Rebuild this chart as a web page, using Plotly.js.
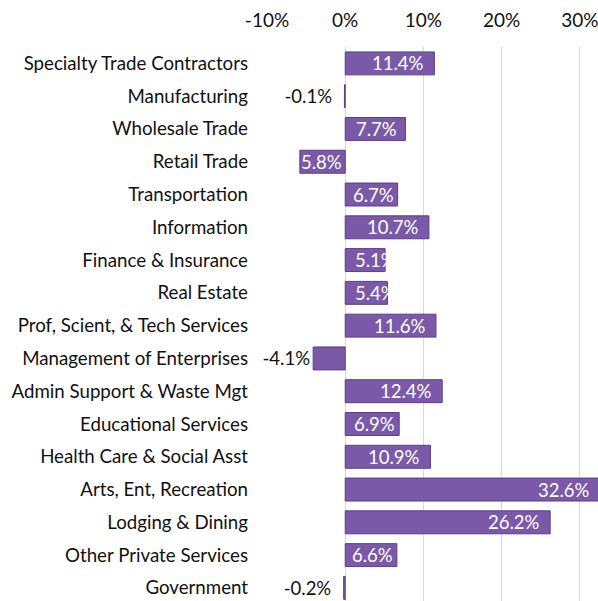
<!DOCTYPE html>
<html>
<head>
<meta charset="utf-8">
<script src="https://cdn.plot.ly/plotly-3.0.1.min.js"></script>
<style>html,body{margin:0;padding:0;background:#fff;overflow:hidden;}#chart{width:601px;height:601px;}</style>
</head>
<body>
<div id="chart"></div>
<script>
const categories = [
  "Specialty Trade Contractors", "Manufacturing", "Wholesale Trade", "Retail Trade",
  "Transportation", "Information", "Finance & Insurance", "Real Estate",
  "Prof, Scient, & Tech Services", "Management of Enterprises", "Admin Support & Waste Mgt",
  "Educational Services", "Health Care & Social Asst", "Arts, Ent, Recreation",
  "Lodging & Dining", "Other Private Services", "Government"
];
const values = [11.4, -0.1, 7.7, -5.8, 6.7, 10.7, 5.1, 5.4, 11.6, -4.1, 12.4, 6.9, 10.9, 32.6, 26.2, 6.6, -0.2];
const labels = ["11.4%", "-0.1%", "7.7%", "5.8%", "6.7%", "10.7%", "5.1%", "5.4%", "11.6%", "-4.1%", "12.4%", "6.9%", "10.9%", "32.6%", "26.2%", "6.6%", "-0.2%"];
const tickVals = [-10, 0, 10, 20, 30];
const tickText = ["-10%", "0%", "10%", "20%", "30%"];

const FONT = "Lato, 'Open Sans', sans-serif";
const LABEL_SIZE = 18.5;
const NB = '\u00a0';
const inside = values.map((v, i) => v > 0 || labels[i].charAt(0) !== '-');
const outsideText = labels.map((t, i) => inside[i] ? '' : (Math.abs(values[i]) < 1 ? t + NB + NB : t));

const trace = {
  type: 'bar',
  orientation: 'h',
  y: categories,
  x: values,
  text: outsideText,
  textposition: 'outside',
  constraintext: 'none',
  cliponaxis: false,
  outsidetextfont: {family: FONT, size: LABEL_SIZE, color: '#111111'},
  textangle: 0,
  width: 0.7,
  marker: {color: '#7a5aa8', line: {color: '#5b3f86', width: 1}},
  hoverinfo: 'none'
};

const layout = {
  width: 601, height: 601,
  margin: {l: 267, r: 0, t: 47, b: 0, pad: 0},
  paper_bgcolor: '#ffffff', plot_bgcolor: '#ffffff',
  showlegend: false,
  font: {family: FONT, size: LABEL_SIZE, color: '#111111'},
  xaxis: {
    side: 'top',
    range: [-10, 32.7],
    tickvals: tickVals, ticktext: tickText,
    showgrid: true, gridcolor: '#d9d9d9', gridwidth: 1,
    zeroline: true, zerolinecolor: '#d9d9d9', zerolinewidth: 1,
    showline: false, ticks: '',
    ticklabelstandoff: 15,
    tickfont: {family: FONT, size: 19, color: '#111111'},
    fixedrange: true
  },
  yaxis: {
    type: 'category',
    range: [16.4, -0.5],
    showgrid: false, zeroline: false, showline: false, ticks: '',
    ticklabelstandoff: 18,
    tickfont: {family: FONT, size: 18.7, color: '#111111'},
    fixedrange: true
  }
};

const gd = document.getElementById('chart');
Plotly.newPlot(gd, [trace], layout, {displayModeBar: false, staticPlot: true}).then(() => {
  const xa = gd._fullLayout.xaxis;
  const ctx = document.createElement('canvas').getContext('2d');
  ctx.font = LABEL_SIZE + 'px Lato';
  const PAD = 10;
  const anns = [];
  values.forEach((v, i) => {
    if (!inside[i]) return;
    const w = ctx.measureText(labels[i]).width;
    const barW = Math.abs(xa.l2p(v) - xa.l2p(0));
    let a;
    if (v > 0) {
      if (barW - 2 * PAD >= w) a = {x: v, xanchor: 'right', xshift: -PAD + 1};
      else a = {x: 0, xanchor: 'left', xshift: Math.min(PAD, Math.max(0, barW - w - 4)) };
      if (barW - 2 * PAD < w && barW - w - 4 < PAD && barW - w - 4 >= 0) a = {x: v, xanchor: 'right', xshift: -3};
      if (barW < w + 4) a = {x: 0, xanchor: 'left', xshift: PAD - 1};
    } else {
      a = {x: v, xanchor: 'left', xshift: 0};
    }
    anns.push(Object.assign(a, {
      y: categories[i], xref: 'x', yref: 'y', text: labels[i], showarrow: false,
      font: {family: FONT, size: LABEL_SIZE, color: '#ffffff'}, borderpad: 0
    }));
  });
  return Plotly.relayout(gd, {annotations: anns});
});
</script>
</body>
</html>
